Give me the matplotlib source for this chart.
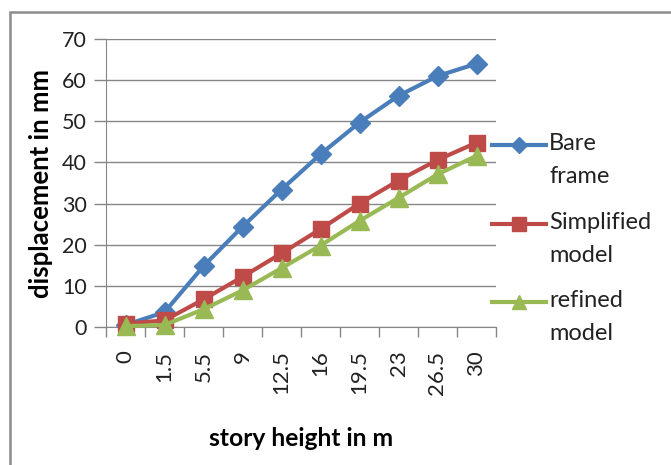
import numpy as np
import matplotlib
matplotlib.use("Agg")
import matplotlib.pyplot as plt
from matplotlib.lines import Line2D
from matplotlib.patches import Rectangle

plt.rcParams['font.family'] = ['Lato', 'DejaVu Sans']

# datos
alturas = ['0', '1.5', '5.5', '9', '12.5', '16', '19.5', '23', '26.5', '30']
bare_frame = [0.5, 3.6, 14.8, 24.4, 33.4, 42.0, 49.7, 56.2, 61.0, 64.0]
simplified = [0.8, 1.6, 6.7, 12.2, 17.9, 23.8, 30.0, 35.6, 40.6, 44.8]
refined = [0.2, 0.5, 4.3, 8.9, 14.3, 19.8, 25.8, 31.4, 37.1, 41.6]

series = [
    ('Bare\nframe', bare_frame, '#4A7EBB', 'D', 10),
    ('Simplified\nmodel', simplified, '#BE4B48', 's', 12),
    ('refined\nmodel', refined, '#98B954', '^', 13),
]

fig = plt.figure(figsize=(6.71, 4.65), dpi=100)
ax = fig.add_axes([106 / 671, 1 - 327 / 465, 390 / 671, 288 / 465])

x = np.arange(len(alturas))
for nombre, vals, color, marker, ms in series:
    ax.plot(x, vals, color=color, lw=3, marker=marker, markersize=ms,
            clip_on=False, zorder=3)

ax.set_xlim(-0.5, len(alturas) - 0.5)
ax.set_ylim(0, 70)
ax.set_yticks(np.arange(0, 71, 10))
ax.yaxis.grid(True, color='#868686', lw=1)
ax.set_axisbelow(True)

ax.set_xticks(x)
ax.set_xticklabels(alturas, rotation=90, fontsize=16, color='#222222')
ax.set_xticks(np.arange(-0.5, len(alturas)), minor=True)
ax.tick_params(axis='x', which='major', length=0, pad=17)
ax.tick_params(axis='x', which='minor', length=7, color='#868686', width=1)
ax.tick_params(axis='y', length=9, color='#868686', width=1, labelsize=15.5,
               labelcolor='#222222', pad=5)

for lado in ['top', 'right']:
    ax.spines[lado].set_visible(False)
for lado in ['left', 'bottom']:
    ax.spines[lado].set_color('#868686')

ax.set_ylabel('displacement in mm', fontsize=18.5, fontweight='bold', labelpad=6)
ax.set_xlabel('story height in m', fontsize=17.7, fontweight='bold', labelpad=23)

# leyenda manual: simbolo alineado con la primera linea del texto
ys = [145, 224, 302]
for (nombre, vals, color, marker, ms), yp in zip(series, ys):
    yf = 1 - yp / 465
    fig.add_artist(Line2D([492 / 671, 546 / 671], [yf, yf], color=color, lw=3,
                          transform=fig.transFigure))
    fig.add_artist(Line2D([518.5 / 671], [yf], color=color, marker=marker,
                          markersize=ms * 0.8, lw=0, transform=fig.transFigure))
    fig.text(549 / 671, yf + 12 / 465, nombre, fontsize=17, va='top', ha='left',
             linespacing=1.68, color='#222222')

# marco exterior
fig.add_artist(Rectangle((10 / 671, -0.05), 1.2, 1 - 12 / 465 + 0.05,
                         transform=fig.transFigure, fill=False,
                         edgecolor='#8c8c8c', lw=1.8))

fig.savefig('out.png', dpi=100)
